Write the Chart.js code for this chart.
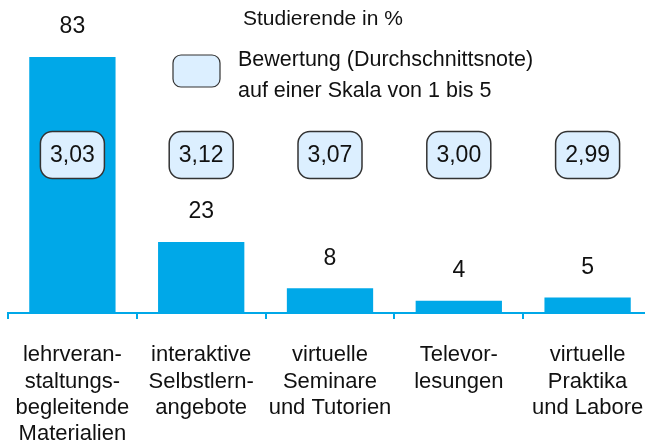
<!DOCTYPE html>
<html>
<head>
<meta charset="utf-8">
<script src="https://cdn.jsdelivr.net/npm/chart.js@4.4.0/dist/chart.umd.min.js"></script>
<style>
  html, body { margin: 0; padding: 0; background: #fff; overflow: hidden; }
  #wrap { width: 652px; height: 440px; }
</style>
</head>
<body>
<div id="wrap"><canvas id="chart" width="652" height="440"></canvas></div>
<script>
// ── Data ──
const categories = [
    ['lehrveran-', 'staltungs-', 'begleitende', 'Materialien'],
    ['interaktive', 'Selbstlern-', 'angebote'],
    ['virtuelle', 'Seminare', 'und Tutorien'],
    ['Televor-', 'lesungen'],
    ['virtuelle', 'Praktika', 'und Labore']
];
const studentShare = [83, 23, 8, 4, 5];
const ratings = ['3,03', '3,12', '3,07', '3,00', '2,99'];
const legendTitle = 'Studierende in %';
const legendLines = ['Bewertung (Durchschnittsnote)', 'auf einer Skala von 1 bis 5'];

const blue = '#00a8e8';
const boxFill = '#dcefff';
const boxBorder = '#333';
const FONT = "'Liberation Sans', Arial, sans-serif";

function roundRect(ctx, x, y, w, h, r) {
    ctx.beginPath();
    ctx.moveTo(x + r, y);
    ctx.arcTo(x + w, y, x + w, y + h, r);
    ctx.arcTo(x + w, y + h, x, y + h, r);
    ctx.arcTo(x, y + h, x, y, r);
    ctx.arcTo(x, y, x + w, y, r);
    ctx.closePath();
}

// ── Labels, rating boxes, legend ──
const overlayPlugin = {
    id: 'overlay',
    afterDatasetsDraw(chart) {
        const ctx = chart.ctx;
        const meta = chart.getDatasetMeta(0);
        ctx.save();
        ctx.fillStyle = '#111';
        ctx.textAlign = 'center';
        ctx.textBaseline = 'middle';
        ctx.font = '23px ' + FONT;
        meta.data.forEach((bar, i) => {
            ctx.fillText(String(studentShare[i]), bar.x, bar.y - 30);
        });

        // rating boxes
        meta.data.forEach((bar, i) => {
            const w = 64, h = 47, cy = 155;
            roundRect(ctx, bar.x - w / 2, cy - h / 2, w, h, 12);
            ctx.fillStyle = boxFill;
            ctx.fill();
            ctx.lineWidth = 1.5;
            ctx.strokeStyle = boxBorder;
            ctx.stroke();
            ctx.fillStyle = '#111';
            ctx.font = '23px ' + FONT;
            ctx.fillText(ratings[i], bar.x, cy + 1);
        });

        // legend
        ctx.textAlign = 'left';
        ctx.font = '21px ' + FONT;
        ctx.fillStyle = '#111';
        ctx.fillText(legendTitle, 243, 19);
        roundRect(ctx, 173, 55, 47, 32, 8);
        ctx.fillStyle = boxFill;
        ctx.fill();
        ctx.lineWidth = 1.2;
        ctx.strokeStyle = boxBorder;
        ctx.stroke();
        ctx.fillStyle = '#111';
        ctx.font = '21.5px ' + FONT;
        ctx.fillText(legendLines[0], 238, 60);
        ctx.fillText(legendLines[1], 238, 91);
        ctx.restore();
    }
};

new Chart(document.getElementById('chart'), {
    type: 'bar',
    data: {
        labels: categories,
        datasets: [{
            data: studentShare,
            backgroundColor: blue,
            borderWidth: 0,
            barPercentage: 0.67,
            categoryPercentage: 1
        }]
    },
    options: {
        responsive: false,
        animation: false,
        layout: { padding: { left: 8, right: 0, top: 0, bottom: 0 } },
        plugins: { legend: { display: false }, tooltip: { enabled: false } },
        scales: {
            y: { display: false, min: 0, max: 101.5 },
            x: {
                afterFit: (scale) => {
                    scale.height = 127;
                    scale.paddingLeft = 0;
                    scale.paddingRight = 0;
                },
                border: { color: blue, width: 2 },
                grid: {
                    offset: true,
                    drawOnChartArea: false,
                    color: blue,
                    lineWidth: 2,
                    tickLength: 6
                },
                ticks: {
                    color: '#111',
                    padding: 23,
                    maxRotation: 0,
                    autoSkip: false,
                    font: { family: FONT, size: 22, lineHeight: 1.2 }
                }
            }
        }
    },
    plugins: [overlayPlugin]
});
</script>
</body>
</html>
